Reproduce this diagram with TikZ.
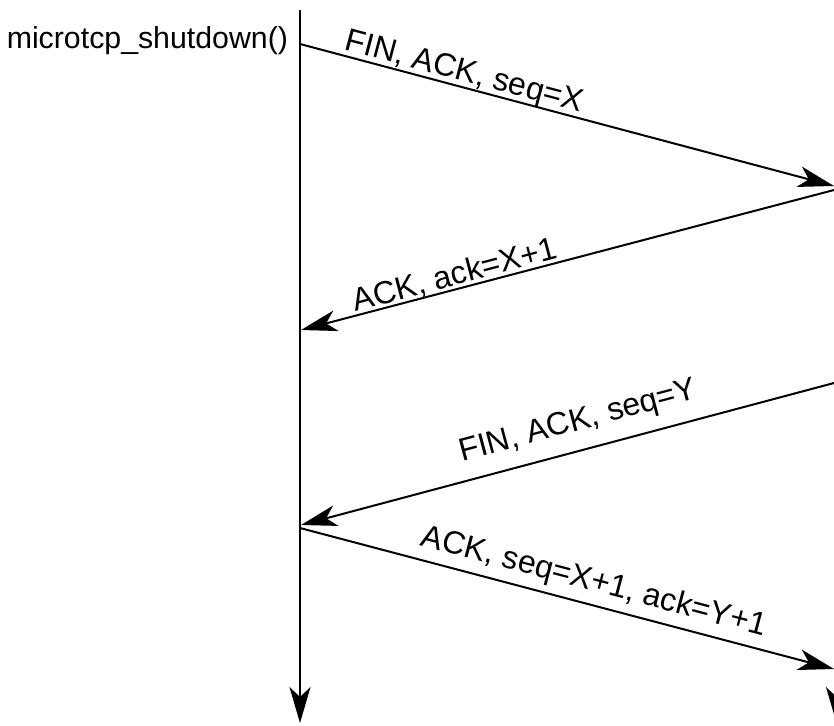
\documentclass[tikz,border=0pt]{standalone}
\usepackage{fontspec}
\setmainfont{Liberation Sans}
\usetikzlibrary{arrows.meta}
\begin{document}
\begin{tikzpicture}[x=1pt, y=-1pt, line width=2pt,
    msg/.style={-{Stealth[length=36pt, width=21pt, inset=10pt]}},
    lbl/.style={sloped, anchor=base, inner sep=0pt, font=\fontsize{32}{38}\selectfont}]
    \useasboundingbox (0,0) rectangle (834,725);
    % time lines
    \coordinate (cltop) at (300,10);
    \coordinate (clbot) at (300,723);
    \coordinate (srtop) at (836.5,10);
    \coordinate (srbot) at (836.5,723);
    \draw[msg] (cltop) -- (clbot);
    \draw[msg] (srtop) -- (srbot);
    \node[anchor=east, inner sep=0pt, font=\fontsize{30.3}{36}\selectfont] (call) at (289,41) {microtcp\_shutdown()};
    % message end points
    \coordinate (fin1a) at (300,44);   \coordinate (fin1b) at (834,186);
    \coordinate (ack1a) at (834,190);  \coordinate (ack1b) at (301,330);
    \coordinate (fin2a) at (834,383);  \coordinate (fin2b) at (301,525);
    \coordinate (ack2a) at (300,528);  \coordinate (ack2b) at (834,669);
    % messages
    \draw[msg] (fin1a) -- node[lbl, pos=0.30, yshift=6pt] {FIN, ACK, seq=X} (fin1b);
    \draw[msg] (ack1a) -- node[lbl, pos=0.705, yshift=4pt] {ACK, ack=X+1} (ack1b);
    \draw[msg] (fin2a) -- node[lbl, pos=0.466, yshift=20pt] {FIN, ACK, seq=Y} (fin2b);
    \draw[msg] (ack2a) -- node[lbl, pos=0.54, yshift=14pt] {ACK, seq=X+1, ack=Y+1} (ack2b);
\end{tikzpicture}
\end{document}
